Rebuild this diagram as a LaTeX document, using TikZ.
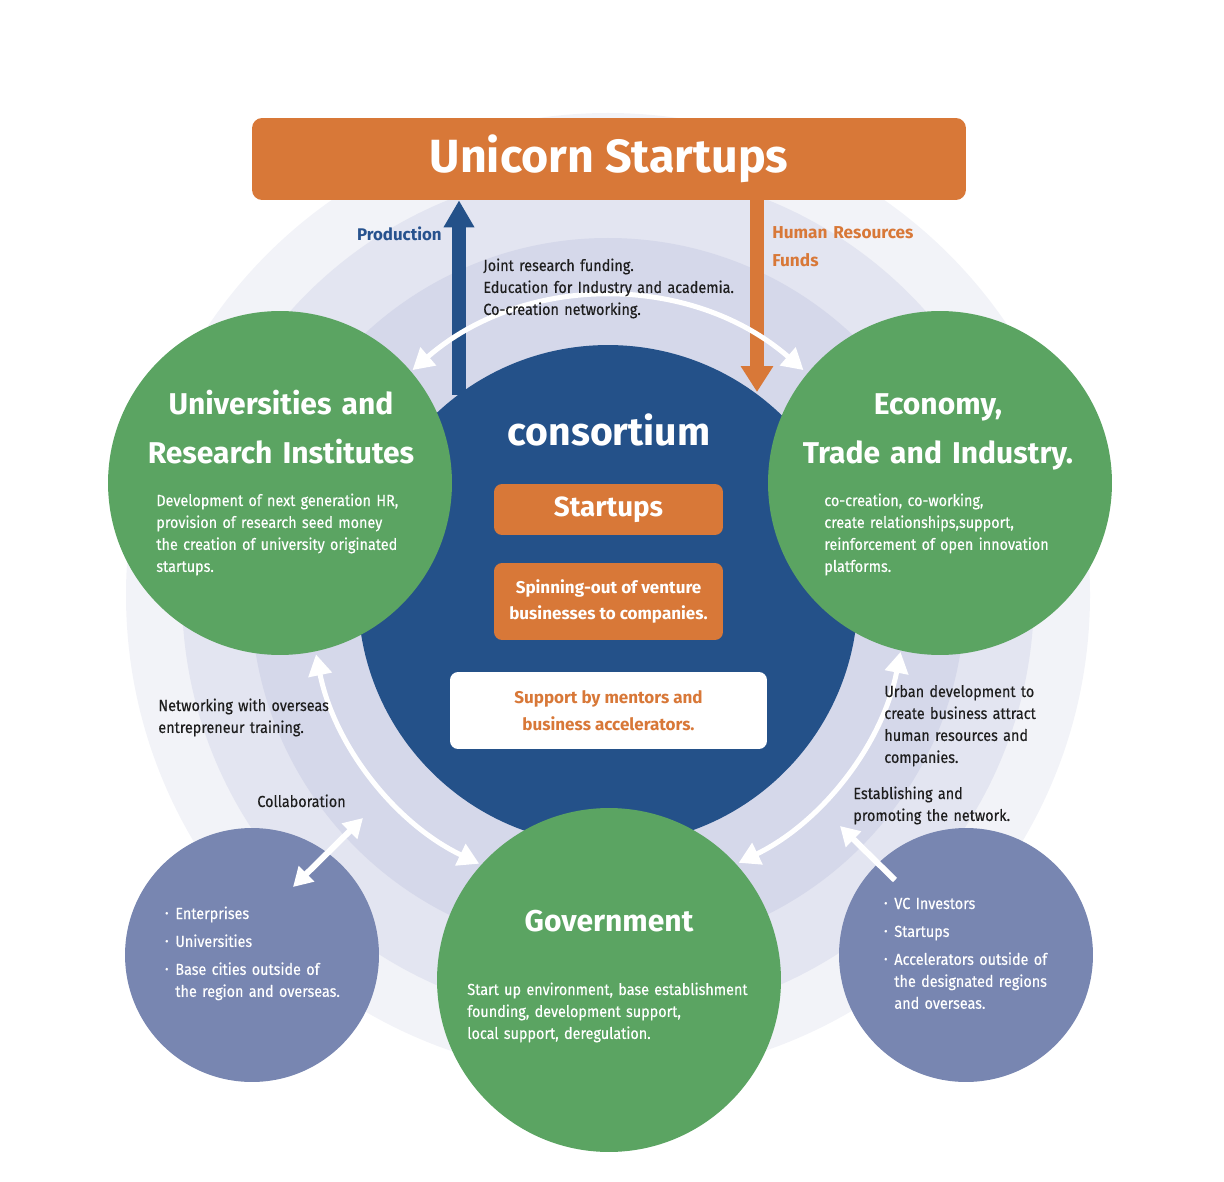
\documentclass[tikz,border=0pt]{standalone}
\usepackage{fontspec}
\setmainfont{Fira Sans}[FakeStretch=0.9, FakeBold=0.35]
\newfontfamily\titlefont{Fira Sans}
\usetikzlibrary{arrows.meta,calc}
\definecolor{orng}{HTML}{D87838}
\definecolor{dblue}{HTML}{245189}
\definecolor{grn}{HTML}{5BA462}
\definecolor{purp}{HTML}{7886B1}
\definecolor{ringA}{HTML}{F2F3F8}
\definecolor{ringB}{HTML}{E3E5F1}
\definecolor{ringC}{HTML}{D5D8EA}
\definecolor{prodblue}{HTML}{27528E}
\definecolor{txtblack}{HTML}{1E1E1E}
\newcommand\fs[2]{\fontsize{#1}{#2}\selectfont}
\newcommand\bul{\makebox[0pt][r]{\raisebox{1.2pt}{\fs{6}{6}•}\hspace{4pt}}}
\begin{document}
\begin{tikzpicture}[x=0.02cm,y=0.02cm,
  txt/.style={inner sep=0, text=txtblack, font=\fs{9.1}{12.5}, anchor=base west, align=left},
  wtxt/.style={txt, text=white},
  ctitle/.style={inner sep=0, text=white, font=\titlefont\bfseries\fs{17.1}{27.8}, anchor=base, align=center, text width=8cm},
  bigcirc/.style={circle, inner sep=0, minimum size=6.88cm, fill=grn},
  smallcirc/.style={circle, inner sep=0, minimum size=5.08cm, fill=purp},
  obox/.style={fill=orng, rounded corners=0.16cm, inner sep=0, text=white, align=center},
  arcarrow/.style={draw=white, line width=0.1cm, {Triangle[length=0.42cm,width=0.46cm]}-{Triangle[length=0.42cm,width=0.46cm]}},
  whitearrow/.style={draw=white, line width=0.12cm}
  ]
\useasboundingbox (0,0) rectangle (1224,-1182);
\coordinate (cc) at (608,-595);
% background rings
\fill[ringA] (cc) circle (482);
\fill[ringB] (cc) circle (426);
\fill[ringC] (cc) circle (357);
% consortium
\node[circle, fill=dblue, minimum size=10cm, inner sep=0] (cons) at (cc) {};
% big circles
\node[bigcirc] (univ) at (280,-483) {};
\node[bigcirc] (econ) at (940,-483) {};
\node[bigcirc] (gov) at (609,-980) {};
\node[smallcirc] (lp) at (252,-955) {};
\node[smallcirc] (rp) at (966,-955) {};
% unicorn box
\node[obox, rounded corners=0.2cm, minimum width=14.28cm, minimum height=1.64cm, font=\titlefont\bfseries\fs{26.5}{30}] (unicorn) at (609,-159) {Unicorn Startups};
% inner boxes
\node[obox, minimum width=4.58cm, minimum height=1.02cm, font=\titlefont\bfseries\fs{15.8}{18}] (startups) at (608.5,-509.5) {Startups};
\node[obox, minimum width=4.58cm, minimum height=1.54cm, font=\titlefont\bfseries\fs{9.7}{15.3}] (spin) at (608.5,-601.5) {Spinning-out of venture\\businesses to companies.};
\node[obox, fill=white, text=orng, minimum width=6.34cm, minimum height=1.54cm, font=\titlefont\bfseries\fs{9.7}{15.3}] (support) at (608.5,-710.5) {Support by mentors and\\business accelerators.};
\node[inner sep=0, text=white, font=\titlefont\bfseries\fs{22.3}{26}, anchor=base] (constitle) at (609,-445) {consortium};
% big arrows
\coordinate (prodfoot) at (459,-395);
\coordinate (hrtip) at (757,-392);
\draw[dblue, line width=0.28cm, -{Triangle[length=0.54cm,width=0.58cm]}] (prodfoot) -- (prodfoot |- unicorn.south);
\draw[orng, line width=0.28cm, -{Triangle[length=0.52cm,width=0.62cm]}] (hrtip |- unicorn.south) -- (hrtip);
% arc arrows
\draw[arcarrow] ($(cc)+(131:298)$) arc[start angle=131, end angle=49, radius=298];
\draw[arcarrow] ($(cc)+(191.5:298)$) arc[start angle=191.5, end angle=244.4, radius=298];
\draw[arcarrow] ($(cc)+(-11:298)$) arc[start angle=-11, end angle=-64, radius=298];
% straight arrows
\coordinate (collA) at (293,-887);
\coordinate (collB) at (363,-818);
\draw[whitearrow, {Triangle[length=0.38cm,width=0.42cm]}-{Triangle[length=0.38cm,width=0.42cm]}] (collA) -- (collB);
\coordinate (netA) at (895,-880);
\coordinate (netB) at (840,-826);
\draw[whitearrow, -{Triangle[length=0.38cm,width=0.42cm]}] (netA) -- (netB);
% labels
\node[inner sep=0, anchor=base east, text=prodblue, font=\titlefont\bfseries\fs{9.6}{15.9}] (prod) at (442,-241) {Production};
\node[inner sep=0, anchor=base west, text=orng, font=\titlefont\bfseries\fs{9.8}{15.9}, align=left, text width=4cm] (hr) at (772,-239) {Human Resources\\Funds};
\node[txt, text width=6cm] (joint) at (483,-271) {Joint research funding.\\Education for Industry and academia.\\Co-creation networking.};
% circle titles
\node[ctitle] (univtitle) at (281,-415) {Universities and\\Research Institutes};
\node[ctitle] (econtitle) at (938,-415) {Economy,\\Trade and Industry.};
\node[ctitle] (govtitle) at (609,-931) {Government};
% circle bodies
\node[wtxt, text width=6cm] (univbody) at (156,-506) {Development of next generation HR,\\provision of research seed money\\the creation of university originated\\startups.};
\node[wtxt, text width=6cm] (econbody) at (824,-506) {co-creation, co-working,\\create relationships,support,\\reinforcement of open innovation\\platforms.};
\node[wtxt, text width=6.5cm] (govbody) at (467,-995) {Start up environment, base establishment\\founding, development support,\\local support, deregulation.};
% side labels
\node[txt, text width=5cm] (netw) at (158,-711) {Networking with overseas\\entrepreneur training.};
\node[txt, text width=3cm] (collab) at (257,-807) {Collaboration};
\node[txt, text width=4cm] (urban) at (884,-697) {Urban development to\\create business attract\\human resources and\\companies.};
\node[txt, text width=4.5cm] (estab) at (853,-799) {Establishing and\\promoting the network.};
% purple lists
\node[wtxt, text width=4cm] (lplist) at (175,-919) {\bul Enterprises\\[3.4pt]\bul Universities\\[3.4pt]\bul Base cities outside of\\the region and overseas.};
\node[wtxt, text width=4cm] (rplist) at (894,-909) {\bul VC Investors\\[3.4pt]\bul Startups\\[3.4pt]\bul Accelerators outside of\\the designated regions\\and overseas.};
\end{tikzpicture}
\end{document}
